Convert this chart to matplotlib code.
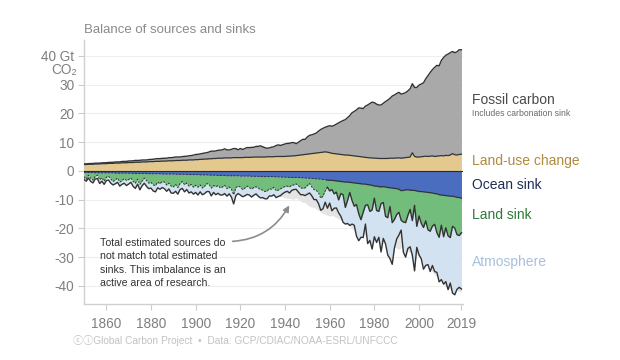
import numpy as np
import matplotlib
matplotlib.use("Agg")
import matplotlib.pyplot as plt

plt.rcParams['font.family'] = ['Liberation Sans', 'DejaVu Sans']

years = list(range(1850, 2020))

# GtCO2 per year
fossil = [
    0.20, 0.21, 0.22, 0.24, 0.26, 0.26, 0.28, 0.28, 0.28, 0.31,
    0.33, 0.33, 0.34, 0.37, 0.39, 0.41, 0.42, 0.46, 0.47, 0.50,
    0.53, 0.55, 0.61, 0.63, 0.61, 0.66, 0.67, 0.68, 0.68, 0.73,
    0.79, 0.83, 0.89, 0.95, 0.95, 0.95, 0.96, 1.00, 1.08, 1.08,
    1.17, 1.22, 1.23, 1.21, 1.25, 1.34, 1.38, 1.44, 1.52, 1.66,
    1.79, 1.84, 1.90, 2.08, 2.10, 2.22, 2.37, 2.67, 2.53, 2.61,
    2.75, 2.81, 2.93, 3.15, 2.80, 2.75, 2.97, 3.15, 3.13, 2.72,
    3.17, 2.83, 3.05, 3.40, 3.38, 3.46, 3.39, 3.70, 3.71, 3.90,
    3.60, 3.26, 2.95, 3.10, 3.33, 3.48, 3.81, 4.02, 3.84, 4.10,
    4.35, 4.45, 4.48, 4.62, 4.61, 4.15, 4.53, 5.00, 5.36, 5.25,
    6.00, 6.45, 6.55, 6.72, 6.95, 7.50, 7.98, 8.30, 8.55, 8.95,
    9.40, 9.40, 9.80, 10.35, 10.90, 11.40, 11.90, 12.30, 13.00, 13.80,
    14.90, 15.45, 16.10, 16.90, 16.90, 16.85, 17.80, 18.30, 18.90, 19.40,
    19.30, 18.80, 18.60, 18.60, 19.20, 19.80, 20.30, 20.80, 21.60, 22.00,
    22.40, 22.80, 22.30, 22.40, 22.60, 23.10, 23.70, 24.00, 24.00, 24.20,
    25.00, 25.30, 25.60, 26.90, 28.10, 29.10, 30.00, 31.00, 31.60, 31.30,
    33.10, 34.20, 34.80, 35.30, 35.60, 35.50, 35.50, 35.90, 36.40, 36.30,
]

land_use = [
    2.2, 2.2, 2.3, 2.3, 2.3, 2.4, 2.4, 2.4, 2.5, 2.5,
    2.5, 2.6, 2.6, 2.6, 2.7, 2.7, 2.7, 2.8, 2.8, 2.8,
    2.9, 2.9, 2.9, 3.0, 3.0, 3.0, 3.1, 3.1, 3.1, 3.2,
    3.2, 3.2, 3.3, 3.3, 3.3, 3.4, 3.4, 3.4, 3.5, 3.5,
    3.5, 3.6, 3.6, 3.6, 3.7, 3.7, 3.7, 3.8, 3.8, 3.8,
    3.9, 3.9, 4.0, 4.0, 4.1, 4.1, 4.2, 4.2, 4.3, 4.3,
    4.4, 4.4, 4.4, 4.5, 4.5, 4.5, 4.5, 4.6, 4.6, 4.6,
    4.6, 4.6, 4.7, 4.7, 4.7, 4.7, 4.8, 4.8, 4.8, 4.8,
    4.8, 4.8, 4.9, 4.9, 4.9, 4.9, 5.0, 5.0, 5.0, 5.0,
    5.0, 5.1, 5.1, 5.2, 5.2, 5.3, 5.4, 5.5, 5.6, 5.7,
    5.8, 5.9, 6.0, 6.1, 6.2, 6.3, 6.4, 6.5, 6.6, 6.5,
    6.3, 6.1, 6.0, 5.9, 5.8, 5.7, 5.6, 5.5, 5.5, 5.4,
    5.3, 5.2, 5.1, 5.0, 4.9, 4.8, 4.7, 4.6, 4.5, 4.5,
    4.4, 4.4, 4.3, 4.3, 4.3, 4.3, 4.3, 4.4, 4.4, 4.4,
    4.5, 4.5, 4.4, 4.5, 4.6, 4.7, 4.8, 6.3, 5.0, 4.8,
    4.8, 4.9, 5.0, 5.1, 5.0, 5.1, 5.2, 5.0, 5.1, 5.2,
    5.3, 5.2, 5.4, 5.3, 5.5, 6.0, 5.6, 5.5, 5.7, 5.8,
]

ocean_sink = [
    0.6, 0.6, 0.6, 0.6, 0.6, 0.7, 0.7, 0.7, 0.7, 0.7,
    0.7, 0.7, 0.7, 0.7, 0.8, 0.8, 0.8, 0.8, 0.8, 0.8,
    0.8, 0.8, 0.9, 0.9, 0.9, 0.9, 0.9, 0.9, 0.9, 1.0,
    1.0, 1.0, 1.0, 1.0, 1.0, 1.1, 1.1, 1.1, 1.1, 1.1,
    1.1, 1.2, 1.2, 1.2, 1.2, 1.2, 1.2, 1.3, 1.3, 1.3,
    1.3, 1.3, 1.4, 1.4, 1.4, 1.4, 1.5, 1.5, 1.5, 1.5,
    1.6, 1.6, 1.6, 1.6, 1.7, 1.7, 1.7, 1.7, 1.7, 1.7,
    1.8, 1.8, 1.8, 1.8, 1.8, 1.9, 1.9, 1.9, 1.9, 2.0,
    2.0, 2.0, 2.0, 2.0, 2.0, 2.0, 2.1, 2.1, 2.1, 2.2,
    2.2, 2.2, 2.3, 2.3, 2.3, 2.3, 2.3, 2.4, 2.4, 2.5,
    2.5, 2.6, 2.6, 2.7, 2.8, 2.8, 2.9, 3.0, 3.1, 3.2,
    3.3, 3.3, 3.4, 3.5, 3.6, 3.7, 3.8, 3.9, 3.9, 4.0,
    4.1, 4.2, 4.3, 4.4, 4.5, 4.6, 4.6, 4.8, 4.9, 5.0,
    5.3, 5.3, 5.5, 5.6, 5.5, 5.6, 5.8, 5.9, 6.0, 6.1,
    6.2, 6.4, 6.9, 6.8, 6.6, 6.6, 6.7, 6.8, 6.8, 7.0,
    7.2, 7.2, 7.3, 7.4, 7.5, 7.6, 7.7, 7.9, 8.0, 8.3,
    8.4, 8.5, 8.6, 8.7, 8.8, 8.8, 9.0, 9.2, 9.3, 9.5,
]

land_sink = [
    1.4, 2.3, 0.9, 2.0, 2.6, 1.2, 0.8, 2.4, 1.7, 2.9,
    1.5, 1.2, 2.1, 3.0, 2.3, 1.7, 3.1, 2.6, 1.9, 2.5,
    2.2, 1.7, 2.8, 3.4, 2.0, 3.8, 2.6, 1.6, 2.5, 3.3,
    3.0, 3.9, 4.1, 2.9, 3.5, 2.6, 2.8, 3.8, 3.2, 4.2,
    4.5, 3.5, 4.6, 3.2, 2.5, 3.6, 3.0, 4.0, 3.4, 4.4,
    3.7, 4.4, 3.5, 4.6, 3.9, 3.0, 3.2, 4.5, 3.6, 4.0,
    3.5, 4.3, 4.0, 3.4, 4.5, 3.9, 4.7, 6.6, 4.1, 3.6,
    3.8, 4.7, 4.2, 3.5, 4.0, 4.4, 3.9, 3.6, 4.1, 4.5,
    4.7, 5.2, 5.0, 4.2, 4.4, 3.7, 4.8, 4.6, 4.1, 3.6,
    3.2, 3.1, 3.3, 2.7, 2.6, 2.2, 2.9, 3.5, 3.7, 3.4,
    2.6, 1.8, 3.0, 3.8, 4.0, 4.8, 6.6, 5.8, 3.8, 2.5,
    3.7, 3.2, 4.6, 3.9, 6.5, 4.2, 4.5, 8.8, 6.4, 3.5,
    6.2, 8.1, 7.4, 10.5, 12.5, 9.8, 7.4, 7.0, 9.2, 8.6,
    4.2, 8.5, 8.6, 5.8, 5.5, 10.2, 10.5, 6.5, 12.0, 10.8,
    9.0, 8.0, 10.3, 11.0, 11.4, 8.9, 6.7, 10.5, 5.2, 12.3,
    8.5, 11.0, 12.4, 10.0, 13.0, 13.4, 11.5, 10.7, 13.5, 14.8,
    10.5, 14.4, 11.2, 13.9, 14.4, 10.5, 10.9, 13.0, 13.2, 12.0,
]

atmosphere = [
    0.9, 0.7, 1.0, 1.1, 1.0, 0.9, 1.2, 1.3, 1.2, 1.1,
    1.2, 1.3, 1.5, 1.2, 1.4, 1.5, 1.4, 1.3, 1.6, 1.8,
    1.6, 1.5, 1.7, 1.8, 1.7, 1.9, 1.7, 1.8, 2.0, 1.9,
    2.0, 2.1, 2.2, 2.0, 1.9, 2.1, 2.3, 2.2, 2.0, 2.4,
    2.2, 2.4, 2.3, 2.1, 2.4, 2.5, 2.3, 2.4, 2.6, 2.4,
    2.5, 2.7, 2.4, 2.3, 2.6, 2.8, 2.5, 2.7, 2.4, 2.8,
    2.7, 2.5, 2.8, 2.9, 2.6, 2.4, 2.7, 3.2, 2.8, 2.6,
    2.8, 2.5, 2.7, 2.9, 2.6, 2.8, 2.7, 2.5, 2.8, 2.9,
    2.6, 2.5, 2.7, 2.5, 2.4, 2.6, 2.4, 2.2, 2.4, 2.1,
    2.0, 1.8, 2.1, 1.8, 1.6, 1.9, 2.2, 2.4, 2.2, 2.7,
    3.0, 3.3, 3.1, 3.5, 3.2, 3.8, 4.2, 4.4, 4.0, 7.3,
    4.2, 7.4, 5.0, 5.5, 4.5, 7.9, 9.6, 5.8, 8.0, 11.5,
    8.2, 6.6, 11.0, 9.4, 6.1, 8.8, 6.5, 13.5, 10.1, 13.6,
    13.4, 11.1, 9.0, 16.8, 12.5, 9.6, 13.0, 18.1, 14.5, 9.9,
    8.5, 7.9, 3.4, 10.5, 12.0, 11.5, 13.0, 12.0, 22.8, 7.3,
    13.5, 12.4, 14.5, 15.5, 12.1, 14.0, 13.7, 16.4, 13.8, 15.5,
    18.9, 16.5, 18.7, 18.7, 15.8, 23.2, 23.2, 19.0, 18.0, 19.6,
]

obs_start = 1959
x_ticks = [1860, 1880, 1900, 1920, 1940, 1960, 1980, 2000, 2019]
y_ticks = [40, 30, 20, 10, 0, -10, -20, -30, -40]
y_tick_labels = ["40 Gt", "30", "20", "10", "0", "-10", "-20", "-30", "-40"]

# colours
c_fossil = "#a9a9a9"
c_luc = "#e3c98d"
c_ocean = "#4a6dbf"
c_land = "#72bd7c"
c_atm = "#d3e2f0"
c_imb = "#e4e4e4"
c_line = "#333333"

yr = np.array(years, dtype=float)
fos = np.array(fossil)
luc = np.array(land_use)
oce = np.array(ocean_sink)
lnd = np.array(land_sink)
atm = np.array(atmosphere)

luc_top = luc
src_top = luc + fos
oce_bot = -oce
lnd_bot = -(oce + lnd)
atm_bot = -(oce + lnd + atm)

fig = plt.figure(figsize=(6.2, 3.6), dpi=100)
W, H = 620, 360
ax = fig.add_axes([84 / W, 1 - 304 / H, (462.8 - 84) / W, (304 - 40) / H])

# imbalance shadow: mirror of total sources
ax.fill_between(yr, 0, -src_top, color=c_imb, lw=0, zorder=1)
# sinks
ax.fill_between(yr, lnd_bot, atm_bot, color=c_atm, lw=0, zorder=2)
ax.fill_between(yr, oce_bot, lnd_bot, color=c_land, lw=0, zorder=3)
ax.fill_between(yr, 0, oce_bot, color=c_ocean, lw=0, zorder=4)
# sources
ax.fill_between(yr, 0, luc_top, color=c_luc, lw=0, zorder=4)
ax.fill_between(yr, luc_top, src_top, color=c_fossil, lw=0, zorder=4)

# outlines
ax.plot(yr, src_top, color=c_line, lw=1.0, zorder=6)
ax.plot(yr, luc_top, color=c_line, lw=0.9, zorder=6)
ax.plot(yr, atm_bot, color=c_line, lw=1.0, zorder=6)
early = yr <= obs_start
late = yr >= obs_start
ax.plot(yr[early], oce_bot[early], color=c_line, lw=0.7, ls=(0, (2, 1.5)), zorder=6)
ax.plot(yr[early], lnd_bot[early], color=c_line, lw=0.7, ls=(0, (2, 1.5)), zorder=6)
ax.plot(yr[late], oce_bot[late], color=c_line, lw=0.9, zorder=6)
ax.plot(yr[late], lnd_bot[late], color=c_line, lw=1.0, zorder=6)
ax.axhline(0, color="#2a2a2a", lw=0.8, zorder=5)

ax.set_xlim(1850, 2019.6)
ax.set_ylim(-46.3, 45.5)
ax.set_xticks(x_ticks)
ax.set_xticklabels([str(t) for t in x_ticks])
ax.set_yticks(y_ticks)
ax.set_yticklabels(y_tick_labels)
ax.tick_params(axis='both', colors="#cccccc", labelcolor="#7f7f7f", labelsize=9.8,
               length=4, width=0.8)
ax.tick_params(axis='x', pad=5)
ax.tick_params(axis='y', pad=3)
for s in ("top", "right"):
    ax.spines[s].set_visible(False)
for s in ("left", "bottom"):
    ax.spines[s].set_color("#d0d0d0")
    ax.spines[s].set_linewidth(1.0)
ax.grid(axis='y', color="#eeeeee", lw=0.8, zorder=0)
ax.set_axisbelow(True)

# CO2 unit label under 40 Gt
fig.text(77 / W, 1 - 70 / H, "CO₂", ha="right", va="center", color="#7f7f7f", fontsize=9.8)

# title
fig.text(84 / W, 1 - 30 / H, "Balance of sources and sinks", ha="left", va="center",
         color="#8a8a8a", fontsize=9.5)

# right-hand labels
lx = 472 / W
fig.text(lx, 1 - 100 / H, "Fossil carbon", color="#4a4a4a", fontsize=10, va="center")
fig.text(lx, 1 - 114 / H, "Includes carbonation sink", color="#6a6a6a", fontsize=6.2, va="center")
fig.text(lx, 1 - 161 / H, "Land-use change", color="#b08a3e", fontsize=10, va="center")
fig.text(lx, 1 - 185 / H, "Ocean sink", color="#1f2d55", fontsize=10, va="center")
fig.text(lx, 1 - 215 / H, "Land sink", color="#2e7a3a", fontsize=10, va="center")
fig.text(lx, 1 - 262 / H, "Atmosphere", color="#a6c0dc", fontsize=10, va="center")

# annotation
ax.annotate("Total estimated sources do\nnot match total estimated\nsinks. This imbalance is an\nactive area of research.",
            xy=(1942.2, -11.6), xycoords="data",
            xytext=(100 / W, 1 - 238 / H), textcoords="figure fraction",
            ha="left", va="top", fontsize=7.6, color="#333333", linespacing=1.42,
            arrowprops=dict(arrowstyle="-|>", color="#8c8c8c", lw=1.2,
                            shrinkA=3, shrinkB=1, mutation_scale=9,
                            connectionstyle="arc3,rad=0.3",
                            relpos=(1.0, 0.93)),
            zorder=8)

# footer
fig.text(73 / W, 1 - 341 / H, "ⓒⓘGlobal Carbon Project  •  Data: GCP/CDIAC/NOAA-ESRL/UNFCCC",
         ha="left", va="center", color="#c2c2c2", fontsize=7.3,
         family=["Liberation Sans", "Noto Sans CJK SC", "DejaVu Sans"])

fig.savefig("out.png", dpi=100, facecolor="white")
